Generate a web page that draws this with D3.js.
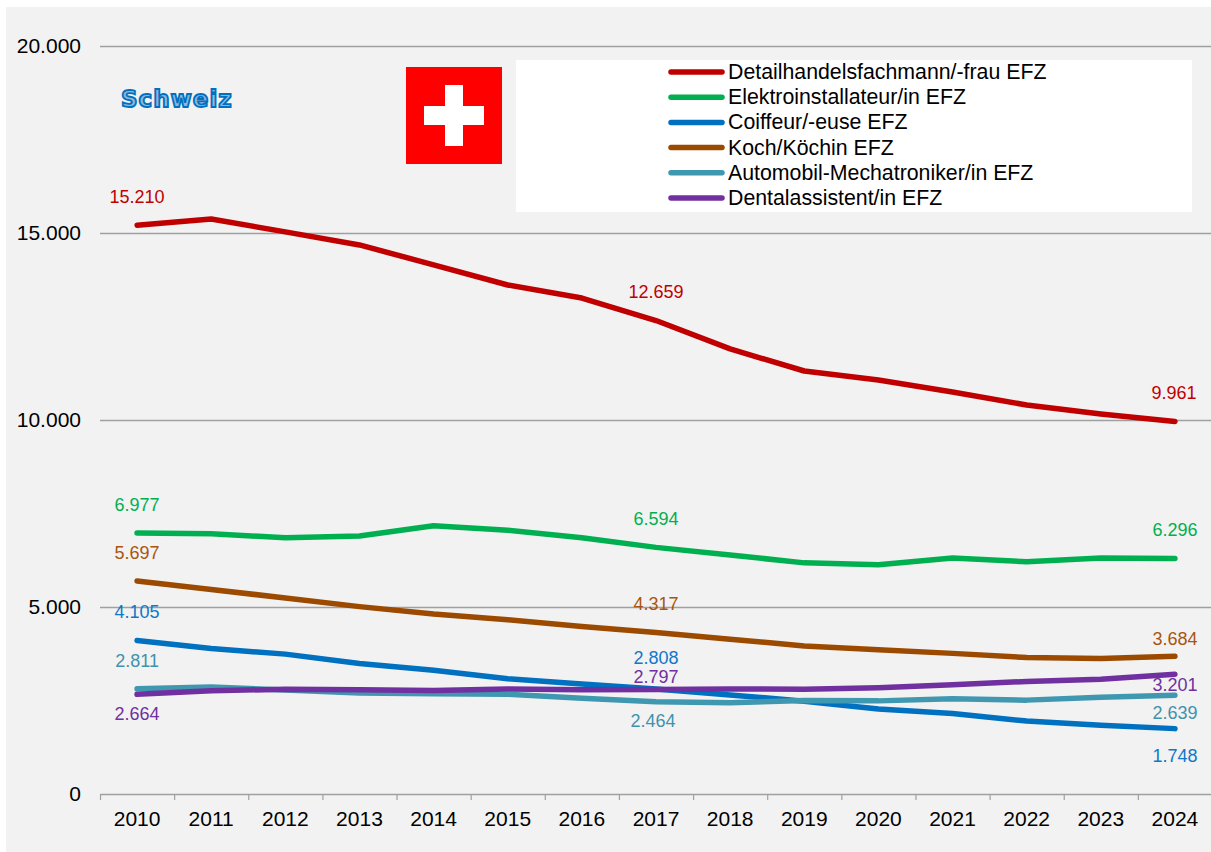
<!DOCTYPE html>
<html>
<head>
<meta charset="utf-8">
<script src="https://cdn.jsdelivr.net/npm/d3@7"></script>
<style>
  html, body { margin: 0; padding: 0; background: #fff; }
  svg { display: block; font-family: "Liberation Sans", Arial, sans-serif; }
</style>
</head>
<body>
<div id="chart"></div>
<script>
const years = [2010, 2011, 2012, 2013, 2014, 2015, 2016, 2017, 2018, 2019, 2020, 2021, 2022, 2023, 2024];
const yTicks = [0, 5000, 10000, 15000, 20000];

const detailhandel = [15210, 15375, 15030, 14680, 14150, 13610, 13260, 12659, 11900, 11310, 11070, 10750, 10400, 10160, 9961];
const elektro      = [6977, 6960, 6850, 6900, 7170, 7050, 6850, 6594, 6390, 6180, 6130, 6310, 6210, 6310, 6296];
const coiffeur     = [4105, 3890, 3740, 3490, 3310, 3080, 2940, 2808, 2650, 2480, 2270, 2150, 1950, 1840, 1748];
const koch         = [5697, 5470, 5240, 5010, 4810, 4660, 4480, 4317, 4140, 3960, 3860, 3760, 3650, 3620, 3684];
const automobil    = [2811, 2860, 2780, 2700, 2680, 2670, 2560, 2464, 2440, 2500, 2490, 2550, 2510, 2590, 2639];
const dental       = [2664, 2760, 2800, 2790, 2770, 2810, 2790, 2797, 2810, 2800, 2840, 2920, 3010, 3070, 3201];

const names = ['Detailhandelsfachmann/-frau EFZ', 'Elektroinstallateur/in EFZ', 'Coiffeur/-euse EFZ', 'Koch/Köchin EFZ', 'Automobil-Mechatroniker/in EFZ', 'Dentalassistent/in EFZ'];
const colors = ['#c00000', '#00b050', '#0070c0', '#9c4a00', '#4097b0', '#7030a0'];
const labelColors = ['#c00000', '#00b050', '#0f78c8', '#a8560f', '#3f93ad', '#7030a0'];
const series = [detailhandel, elektro, coiffeur, koch, automobil, dental];
// draw order as in the original: teal below purple, blue above teal
const drawOrder = [0, 1, 3, 2, 4, 5];

// data labels sit at 2010, 2017, 2024; nudges in px for [2010, 2017, 2024], relative to the point
const labelIdx = [0, 7, 14];
const labelNudge = [
  [[0, -28], [0, -29], [-1, -28]],
  [[0, -28], [0, -28], [0, -29]],
  [[0, -28], [0, -31], [0, 27]],
  [[0, -28], [0, -29], [0, -17]],
  [[0, -28], [-3, 19], [0, 18]],
  [[0, 20], [0, -12], [0, 11]]
];

const W = 1211, H = 852;
const left = 100, right = 1212, top_ = 46, bottom = 794;

const svg = d3.select('#chart').append('svg').attr('width', W).attr('height', H);
svg.append('rect').attr('x', 6).attr('y', 7).attr('width', W - 6).attr('height', H - 7).attr('fill', '#f2f2f2');

const x = d3.scaleBand().domain(years).range([left, right]);
const y = d3.scaleLinear().domain([0, 20000]).range([bottom, top_]);
const fmt = d3.formatLocale({ decimal: ',', thousands: '.', grouping: [3], currency: ['', ' CHF'] }).format(',d');

// gridlines
svg.append('g').selectAll('line').data(yTicks.filter(d => d > 0)).join('line')
  .attr('x1', left).attr('x2', right)
  .attr('y1', d => y(d) + 0.5).attr('y2', d => y(d) + 0.5)
  .attr('stroke', '#a0a0a0').attr('stroke-width', 1.4);

// y axis labels
svg.append('g').selectAll('text').data(yTicks).join('text')
  .attr('x', 81).attr('y', d => y(d) + 7)
  .attr('text-anchor', 'end').attr('font-size', 21).attr('fill', '#000')
  .text(d => fmt(d));

// x axis
const xAxis = d3.axisBottom(x).tickSize(0).tickPadding(0);
const gx = svg.append('g').attr('transform', `translate(0,${bottom})`).call(xAxis);
gx.select('.domain').attr('stroke', '#a0a0a0').attr('stroke-width', 1.4);
gx.selectAll('text').attr('font-size', 21).attr('fill', '#000').attr('font-family', 'inherit').attr('y', 32).attr('dy', 0);
gx.append('g').selectAll('line').data(years.map(d => x(d)).concat(right)).join('line')
  .attr('x1', d => d + 0.5).attr('x2', d => d + 0.5).attr('y1', 0).attr('y2', 6)
  .attr('stroke', '#a0a0a0').attr('stroke-width', 1.2);

// series lines
const line = d3.line().x((d, i) => x(years[i]) + x.bandwidth() / 2).y(d => y(d));
svg.append('g').selectAll('path').data(drawOrder).join('path')
  .attr('d', i => line(series[i]))
  .attr('fill', 'none').attr('stroke', i => colors[i]).attr('stroke-width', 5.5)
  .attr('stroke-linecap', 'round').attr('stroke-linejoin', 'round');

// data labels
series.forEach((s, si) => {
  labelIdx.forEach((idx, k) => {
    const n = labelNudge[si][k];
    svg.append('text')
      .attr('x', x(years[idx]) + x.bandwidth() / 2 + n[0])
      .attr('y', y(s[idx]) + n[1] + 6)
      .attr('text-anchor', 'middle').attr('font-size', 18).attr('fill', labelColors[si])
      .text(fmt(s[idx]));
  });
});

// Schweiz title
svg.append('text').attr('x', 121).attr('y', 107)
  .attr('font-family', '"DejaVu Sans", sans-serif')
  .attr('font-size', 23).attr('font-weight', 'bold').attr('letter-spacing', 1)
  .attr('fill', '#8fb6dc').attr('stroke', '#0070c0').attr('stroke-width', 1.8)
  .text('Schweiz');

// flag
const flag = svg.append('g');
flag.append('rect').attr('x', 406).attr('y', 67).attr('width', 96).attr('height', 97).attr('fill', '#ff0000');
flag.append('rect').attr('x', 445).attr('y', 85).attr('width', 18).attr('height', 61).attr('fill', '#fff');
flag.append('rect').attr('x', 424).attr('y', 106).attr('width', 60).attr('height', 19).attr('fill', '#fff');

// legend
const lg = svg.append('g');
lg.append('rect').attr('x', 516).attr('y', 60).attr('width', 676).attr('height', 152).attr('fill', '#fff');
const legendY = d3.scalePoint().domain(names).range([72, 198]);
names.forEach((n, i) => {
  lg.append('line').attr('x1', 671).attr('x2', 722).attr('y1', legendY(n)).attr('y2', legendY(n))
    .attr('stroke', colors[i]).attr('stroke-width', 5.5).attr('stroke-linecap', 'round');
  lg.append('text').attr('x', 728).attr('y', legendY(n) + 7)
    .attr('font-size', 21.3).attr('fill', '#000').text(n);
});
</script>
</body>
</html>
